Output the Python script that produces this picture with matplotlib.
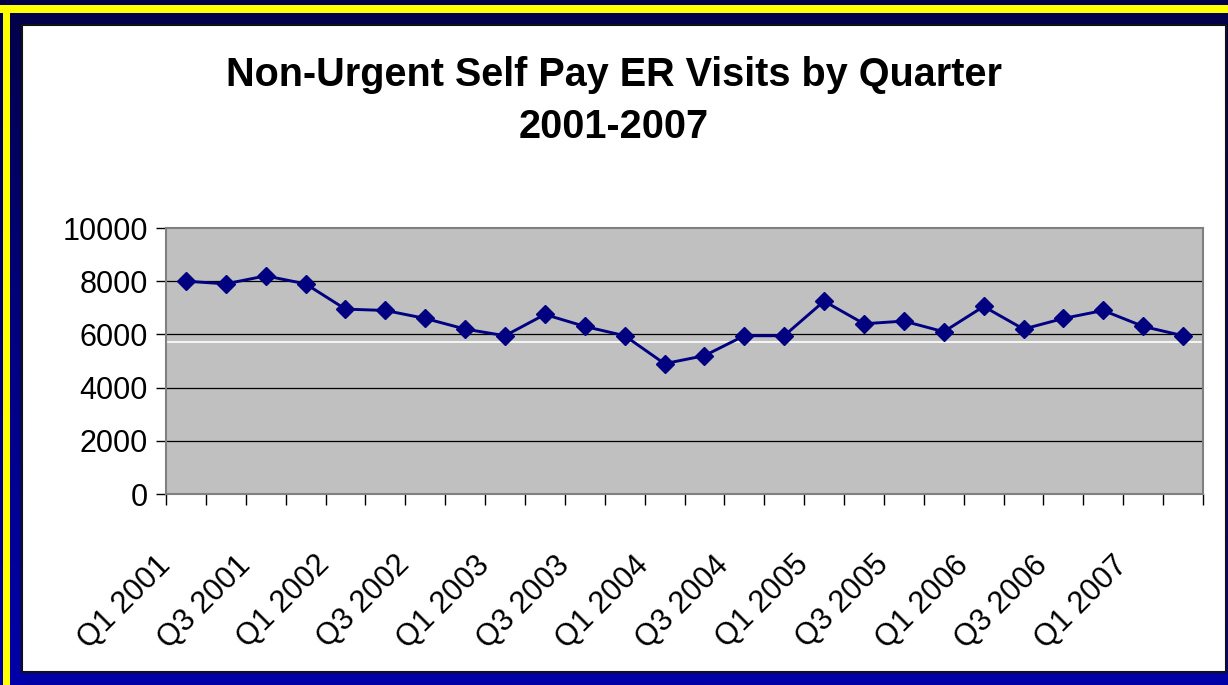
import numpy as np
import matplotlib
matplotlib.use('Agg')
import matplotlib.pyplot as plt
from matplotlib.patches import Rectangle
from matplotlib.transforms import ScaledTranslation

plt.rcParams['font.family'] = ['Liberation Sans', 'DejaVu Sans']

# data
quarters = ['Q1 2001', 'Q2 2001', 'Q3 2001', 'Q4 2001',
            'Q1 2002', 'Q2 2002', 'Q3 2002', 'Q4 2002',
            'Q1 2003', 'Q2 2003', 'Q3 2003', 'Q4 2003',
            'Q1 2004', 'Q2 2004', 'Q3 2004', 'Q4 2004',
            'Q1 2005', 'Q2 2005', 'Q3 2005', 'Q4 2005',
            'Q1 2006', 'Q2 2006', 'Q3 2006', 'Q4 2006',
            'Q1 2007', 'Q2 2007']
visits = [8000, 7900, 8200, 7900, 6950, 6900, 6600, 6200, 5950, 6750,
          6300, 5950, 4900, 5200, 5950, 5950, 7250, 6400, 6500, 6100,
          7050, 6200, 6600, 6900, 6300, 5950]
white_line = 5730
yticks = [0, 2000, 4000, 6000, 8000, 10000]

W, H = 1228, 685
fig = plt.figure(figsize=(W / 100, H / 100), dpi=100)

####### slide background
bg = fig.add_axes([0, 0, 1, 1])
bg.set_xlim(0, W)
bg.set_ylim(H, 0)
bg.axis('off')
grad = np.linspace(0, 1, 256).reshape(-1, 1)
cmap = matplotlib.colors.LinearSegmentedColormap.from_list('bgc', ['#000048', '#000080', '#0000A8'])
bg.imshow(grad, cmap=cmap, extent=[0, W, H, 0], aspect='auto')
bg.add_patch(Rectangle((0, 5), W, 8, color='#FFFF00', lw=0))
bg.add_patch(Rectangle((3, 5), 7, H, color='#FFFF00', lw=0))
bg.add_patch(Rectangle((22, 25), 1204, 647, facecolor='white', edgecolor='#111111', lw=1.5))

fig.text(0.5, 1 - 75 / H, 'Non-Urgent Self Pay ER Visits by Quarter', ha='center', va='center',
         fontsize=28.5, fontweight='bold', color='black')
fig.text(0.5, 1 - 127 / H, '2001-2007', ha='center', va='center',
         fontsize=28.5, fontweight='bold', color='black')

####### chart
ax = fig.add_axes([166 / W, 1 - 494 / H, (1203 - 166) / W, (494 - 228) / H])
ax.set_facecolor('#C0C0C0')
x = np.arange(len(quarters))
ax.set_xlim(-0.5, len(quarters) - 0.5)
ax.set_ylim(0, 10000)

for v in yticks[1:-1]:
    ax.axhline(v, color='black', lw=0.9, zorder=1)
ax.axhline(white_line, color='white', lw=1.2, zorder=1)

ax.plot(x, visits, color='#000080', lw=2.1, marker='D', markersize=9,
        markerfacecolor='#000080', markeredgecolor='#000080', zorder=3)

for s in ax.spines.values():
    s.set_color('#808080')
    s.set_linewidth(1.5)

ax.set_yticks(yticks)
ax.set_yticklabels([str(v) for v in yticks])
ax.tick_params(axis='y', direction='out', length=7, width=1, color='black',
               labelsize=22, pad=6)

ax.set_xticks(np.arange(-0.5, len(quarters)), minor=True)
ax.set_xticks(x[::2])
ax.set_xticklabels(quarters[::2])
ax.tick_params(axis='x', which='minor', direction='out', length=8, width=1, color='black')
ax.tick_params(axis='x', which='major', length=0, labelsize=22, pad=48)
off = ScaledTranslation(-0.2, 0, fig.dpi_scale_trans)
for lab in ax.get_xticklabels():
    lab.set_rotation(45)
    lab.set_rotation_mode('anchor')
    lab.set_ha('right')
    lab.set_va('center')
    lab.set_transform(lab.get_transform() + off)

fig.savefig('out.png', dpi=100)
